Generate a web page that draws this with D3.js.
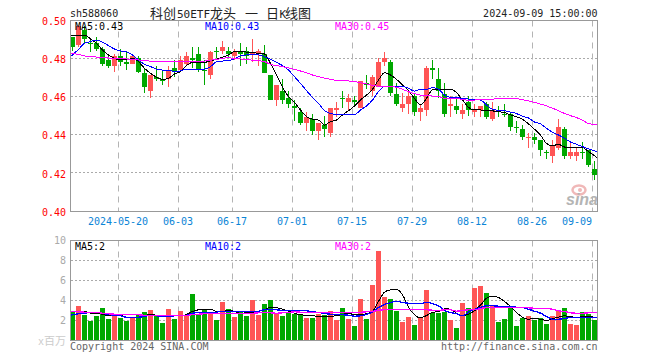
<!DOCTYPE html>
<html>
<head>
<meta charset="utf-8">
<script src="https://cdn.jsdelivr.net/npm/d3@7"></script>
<style>
html, body { margin: 0; padding: 0; background: #fff; }
svg { display: block; }
text { font-family: "DejaVu Sans Mono", monospace; font-size: 10px; }
</style>
</head>
<body>
<div id="chart"></div>
<script>
const dates = [
    "2024-05-08","2024-05-09","2024-05-10","2024-05-13","2024-05-14","2024-05-15","2024-05-16","2024-05-17",
    "2024-05-20","2024-05-21","2024-05-22","2024-05-23","2024-05-24","2024-05-27","2024-05-28","2024-05-29","2024-05-30","2024-05-31",
    "2024-06-03","2024-06-04","2024-06-05","2024-06-06","2024-06-07","2024-06-11","2024-06-12","2024-06-13","2024-06-14",
    "2024-06-17","2024-06-18","2024-06-19","2024-06-20","2024-06-21","2024-06-24","2024-06-25","2024-06-26","2024-06-27","2024-06-28",
    "2024-07-01","2024-07-02","2024-07-03","2024-07-04","2024-07-05","2024-07-08","2024-07-09","2024-07-10","2024-07-11","2024-07-12",
    "2024-07-15","2024-07-16","2024-07-17","2024-07-18","2024-07-19","2024-07-22","2024-07-23","2024-07-24","2024-07-25","2024-07-26",
    "2024-07-29","2024-07-30","2024-07-31","2024-08-01","2024-08-02","2024-08-05","2024-08-06","2024-08-07","2024-08-08","2024-08-09",
    "2024-08-12","2024-08-13","2024-08-14","2024-08-15","2024-08-16","2024-08-19","2024-08-20","2024-08-21","2024-08-22","2024-08-23",
    "2024-08-26","2024-08-27","2024-08-28","2024-08-29","2024-08-30","2024-09-02","2024-09-03","2024-09-04","2024-09-05","2024-09-06",
    "2024-09-09"
];

const tickDates = ["2024-05-20","2024-06-03","2024-06-17","2024-07-01","2024-07-15","2024-07-29","2024-08-12","2024-08-26","2024-09-09"];
const tickLabels = ["2024-05-20","06-03","06-17","07-01","07-15","07-29","08-12","08-26","09-09"];
const priceTicks = [0.40, 0.42, 0.44, 0.46, 0.48, 0.50];
const volTicks = [2, 4, 6, 8, 10];

const opens = [.491,.487,.495,.488,.488,.485,.479,.476,.481,.478,.477,.480,.472,.463,.470,.469,.469,.475,.474,.477,.480,.482,.474,.471,.484,.484,.484,.481,.483,.484,.482,.482,.482,.471,.458,.463,.459,.455,.452,.446,.448,.442,.445,.441,.453,.459,.457,.458,.454,.467,.463,.465,.478,.478,.461,.454,.456,.460,.452,.453,.475,.469,.461,.455,.455,.451,.457,.452,.453,.456,.448,.453,.451,.451,.444,.443,.438,.439,.437,.431,.429,.433,.443,.429,.429,.431,.432,.422];
const closes = [.486,.497,.490,.488,.485,.477,.476,.481,.478,.477,.481,.473,.465,.471,.469,.468,.474,.473,.479,.481,.479,.474,.474,.483,.483,.486,.482,.483,.482,.481,.483,.484,.472,.458,.466,.458,.456,.454,.446,.449,.442,.446,.443,.454,.454,.459,.459,.457,.468,.466,.470,.478,.480,.462,.456,.456,.460,.452,.454,.475,.474,.463,.451,.456,.453,.453,.453,.453,.455,.449,.453,.452,.451,.444,.444,.439,.439,.437,.432,.431,.434,.444,.429,.431,.431,.431,.424,.419];
const highs = [.491,.497,.497,.490,.491,.486,.482,.482,.485,.483,.482,.481,.475,.471,.476,.474,.476,.479,.481,.483,.486,.486,.479,.484,.486,.489,.486,.485,.488,.486,.490,.485,.487,.471,.466,.469,.463,.458,.454,.452,.451,.446,.450,.454,.457,.463,.461,.460,.468,.471,.471,.480,.483,.479,.467,.462,.463,.461,.456,.476,.479,.475,.467,.460,.459,.456,.460,.456,.455,.457,.457,.455,.456,.452,.447,.445,.441,.441,.437,.432,.437,.448,.444,.436,.433,.436,.432,.426];
const lows = [.484,.486,.488,.483,.484,.476,.475,.473,.476,.474,.477,.472,.462,.459,.468,.466,.465,.470,.473,.476,.475,.473,.466,.469,.480,.482,.480,.479,.476,.477,.478,.476,.472,.458,.455,.456,.454,.447,.445,.442,.440,.437,.439,.439,.449,.454,.453,.455,.454,.464,.460,.465,.476,.460,.455,.452,.451,.450,.447,.450,.469,.459,.449,.449,.451,.448,.450,.449,.449,.448,.447,.449,.449,.442,.441,.437,.433,.435,.429,.427,.425,.432,.427,.427,.426,.427,.423,.416];

const ma5 = [.4921,.4921,.4921,.4901,.4878,.4843,.4817,.4799,.4791,.4791,.4799,.4782,.4747,.4721,.4700,.4689,.4695,.4717,.4730,.4761,.4778,.4778,.4778,.4787,.4794,.4805,.4817,.4834,.4834,.4832,.4829,.4826,.4822,.4773,.4712,.4648,.4599,.4569,.4529,.4494,.4480,.4476,.4450,.4468,.4476,.4503,.4525,.4550,.4581,.4607,.4637,.4686,.4724,.4712,.4689,.4660,.4630,.4590,.4555,.4590,.4634,.4637,.4634,.4637,.4620,.4581,.4543,.4529,.4529,.4525,.4524,.4520,.4515,.4503,.4494,.4480,.4456,.4428,.4398,.4354,.4342,.4349,.4335,.4332,.4332,.4332,.4311,.4276];
const ma10 = [.4808,.4846,.4878,.4887,.4895,.4883,.4866,.4848,.4838,.4834,.4817,.4791,.4768,.4756,.4743,.4738,.4737,.4730,.4733,.4743,.4743,.4743,.4743,.4756,.4782,.4785,.4787,.4798,.4812,.4817,.4817,.4817,.4808,.4794,.4778,.4761,.4738,.4703,.4668,.4630,.4595,.4564,.4525,.4511,.4504,.4504,.4504,.4504,.4529,.4550,.4581,.4625,.4651,.4651,.4651,.4653,.4642,.4628,.4637,.4637,.4646,.4637,.4607,.4595,.4593,.4590,.4586,.4583,.4581,.4555,.4532,.4527,.4525,.4518,.4510,.4496,.4487,.4466,.4456,.4433,.4412,.4398,.4381,.4361,.4349,.4337,.4325,.4309];
const ma30 = [.4824,.4820,.4812,.4808,.4806,.4803,.4801,.4799,.4798,.4796,.4794,.4791,.4787,.4785,.4785,.4784,.4784,.4784,.4784,.4784,.4784,.4784,.4785,.4789,.4794,.4799,.4803,.4798,.4796,.4794,.4789,.4787,.4782,.4768,.4761,.4756,.4749,.4742,.4733,.4724,.4712,.4703,.4696,.4689,.4684,.4682,.4681,.4677,.4672,.4665,.4658,.4654,.4654,.4651,.4648,.4637,.4625,.4614,.4607,.4604,.4602,.4599,.4590,.4588,.4588,.4585,.4579,.4581,.4583,.4585,.4585,.4590,.4590,.4590,.4588,.4583,.4576,.4569,.4560,.4550,.4538,.4525,.4511,.4499,.4489,.4476,.4457,.4452];

const volumes = [2.9,3.45,2.55,2.0,2.45,3.25,2.15,2.45,2.25,2.0,2.25,2.55,2.85,3.05,2.55,1.75,3.15,2.15,2.95,2.55,4.65,2.55,3.05,2.7,2.05,3.9,3.15,2.35,2.85,2.45,4.05,2.55,3.65,4.05,2.65,2.45,2.85,2.65,2.55,2.25,2.25,2.65,2.55,2.95,2.05,3.25,2.15,1.45,4.15,2.15,5.55,8.95,4.35,4.15,2.95,1.85,2.35,1.55,2.35,5.05,2.75,2.75,2.85,2.05,1.25,3.75,3.25,5.25,5.45,4.75,3.45,1.85,2.15,3.35,1.45,2.25,2.45,2.05,2.25,1.65,2.45,2.95,3.25,1.65,1.55,2.85,2.65,2.05];
const volMa5 = [2.93,2.93,2.9,2.73,2.7,2.63,2.47,2.47,2.53,2.33,2.27,2.33,2.47,2.63,2.5,2.4,2.5,2.5,2.47,2.6,2.9,3.07,3.1,3.13,2.9,2.9,3.03,2.9,2.73,2.77,2.8,2.93,3.07,3.33,3.27,3.13,2.93,2.73,2.57,2.53,2.47,2.43,2.4,2.43,2.47,2.63,2.7,2.6,2.6,2.67,2.9,3.9,4.83,5.07,5.13,4.57,3.33,2.57,2.27,2.5,2.8,2.9,3.17,3.13,2.73,2.47,2.63,2.97,3.53,4.23,4.43,4.3,3.9,3.4,2.8,2.33,2.13,2.2,2.13,2,2.2,2.33,2.47,2.37,2.33,2.37,2.4,2.23];
const volMa10 = [2.53,2.67,2.73,2.8,2.8,2.73,2.6,2.53,2.47,2.33,2.33,2.33,2.4,2.53,2.47,2.4,2.43,2.47,2.5,2.53,2.73,2.8,2.8,2.8,2.83,2.93,2.93,2.9,2.9,2.9,2.9,2.93,3.07,3.07,3.07,3,3,3.03,3.03,2.97,2.87,2.8,2.7,2.63,2.6,2.57,2.53,2.43,2.47,2.6,2.87,3.3,3.6,3.77,3.93,3.8,3.73,3.7,3.67,3.83,3.67,3.47,3,2.8,2.67,2.47,2.83,3.13,3.3,3.47,3.47,3.43,3.4,3.4,3.33,3.3,3.13,2.93,2.73,2.4,2.13,2.13,2.2,2.3,2.33,2.33,2.33,2.33];
const volMa30 = [2.9,2.87,2.83,2.8,2.8,2.73,2.67,2.63,2.6,2.6,2.6,2.57,2.53,2.53,2.53,2.53,2.53,2.53,2.5,2.5,2.6,2.63,2.67,2.67,2.67,2.73,2.73,2.73,2.73,2.73,2.73,2.77,2.8,2.77,2.73,2.77,2.8,2.87,2.83,2.8,2.8,2.8,2.8,2.8,2.83,2.83,2.83,2.83,2.83,2.87,2.9,3.03,3.07,3.07,3.07,3.07,3.07,3.07,3.07,3.07,3.03,3,3.07,3.07,2.93,3,3.07,3.1,3.17,3.3,3.33,3.33,3.33,3.33,3.33,3.3,3.27,3.23,3.23,3.2,3.13,2.97,2.9,2.77,2.73,2.73,2.77,2.8];

const UP = "#ff5555", DOWN = "#00a800", GRID = "#aaaaaa", FRAME = "#999999";
const MA_COLORS = ["#000000", "#0000ff", "#ff00ff"];

const svg = d3.select("#chart").append("svg").attr("width", 660).attr("height", 360);

// band step is 6px, bars are 5px wide
const x = d3.scaleBand().domain(dates).range([69.5, 597.5]).paddingInner(1 / 6).paddingOuter(1 / 12);
const yPrice = d3.scaleLinear().domain([0.40, 0.50]).range([211, 20]);
const yVol = d3.scaleLinear().domain([0, 10]).range([340.5, 240.5]);
const isUp = i => closes[i] > opens[i];
const cx = d => x(d) + x.bandwidth() / 2;

function panelGrid(y, ticks, top, bottom) {
    const g = svg.append("g");
    g.selectAll(".h-grid").data(ticks).join("line")
        .attr("x1", 71).attr("x2", 599)
        .attr("y1", d => Math.floor(y(d)) + 0.5).attr("y2", d => Math.floor(y(d)) + 0.5)
        .attr("stroke", GRID).attr("stroke-dasharray", "2 2");
    g.selectAll(".v-grid").data(tickDates).join("line")
        .attr("x1", d => x(d) + 0.5).attr("x2", d => x(d) + 0.5)
        .attr("y1", top).attr("y2", bottom)
        .attr("stroke", "#b4b4b4").attr("stroke-dasharray", "6 5");
}

function maLine(values, y, color, width) {
    const last = values.length - 1;
    const line = d3.line()
        .x((d, i) => i === 0 ? x.range()[0] + 1 : i === last ? x.range()[1] + 0.5 : cx(dates[i]))
        .y(d => y(d))
        .curve(d3.curveMonotoneX);
    svg.append("path")
        .attr("d", line(values))
        .attr("fill", "none")
        .attr("stroke", color)
        .attr("stroke-width", width)
        .attr("shape-rendering", "crispEdges");
}

function frame(top, bottom) {
    svg.append("rect")
        .attr("x", 70.5).attr("y", top)
        .attr("width", 527).attr("height", bottom - top)
        .attr("fill", "none").attr("stroke", FRAME);
}

function maLabels(y, texts) {
    [75, 205, 335].forEach((lx, i) => {
        svg.append("text").attr("x", lx).attr("y", y).attr("fill", MA_COLORS[i]).text(texts[i]);
    });
}

panelGrid(yPrice, [0.42, 0.44, 0.46, 0.48], 20.5, 212);
panelGrid(yVol, [2, 4, 6, 8], 240.5, 341);

// Watermark sits under the candles
const wm = svg.append("g");
wm.append("ellipse").attr("cx", 579).attr("cy", 190).attr("rx", 6.5).attr("ry", 4.5)
    .attr("fill", "none").attr("stroke", "#f0b8b8").attr("stroke-width", 2.5);
wm.append("circle").attr("cx", 580).attr("cy", 190).attr("r", 2).attr("fill", "#f0b8b8");
wm.append("text").attr("x", 566).attr("y", 205).attr("fill", "#b4b4b4")
    .style("font-family", "'Liberation Sans', sans-serif").style("font-size", "16px")
    .style("font-weight", "bold").style("font-style", "italic").text("sina");

// Candles
const candles = svg.append("g").selectAll("g").data(dates).join("g");
candles.append("line")
    .attr("x1", cx).attr("x2", cx)
    .attr("y1", (d, i) => Math.round(yPrice(highs[i])))
    .attr("y2", (d, i) => Math.round(yPrice(lows[i])))
    .attr("stroke", (d, i) => isUp(i) ? UP : DOWN);
candles.append("rect")
    .attr("x", d => x(d))
    .attr("width", x.bandwidth())
    .attr("y", (d, i) => Math.round(yPrice(Math.max(opens[i], closes[i]))))
    .attr("height", (d, i) => Math.max(1, Math.round(yPrice(Math.min(opens[i], closes[i]))) - Math.round(yPrice(Math.max(opens[i], closes[i])))))
    .attr("fill", (d, i) => isUp(i) ? UP : DOWN);

// Volume bars
svg.append("g").selectAll("rect").data(dates).join("rect")
    .attr("x", d => x(d))
    .attr("width", x.bandwidth())
    .attr("y", (d, i) => Math.round(yVol(volumes[i])))
    .attr("height", (d, i) => 341 - Math.round(yVol(volumes[i])))
    .attr("fill", (d, i) => isUp(i) ? UP : DOWN);

// magenta ends up on top, same as the reference
[ma5, ma10, ma30].forEach((v, i) => maLine(v, yPrice, MA_COLORS[i], 1));
[volMa5, volMa10, volMa30].forEach((v, i) => maLine(v, yVol, MA_COLORS[i], i === 0 ? 1 : 1.3));

frame(20.5, 211.5);
frame(240.5, 340.5);

// Axes
const priceAxis = svg.append("g").attr("transform", "translate(70,1)")
    .call(d3.axisLeft(yPrice).tickValues(priceTicks).tickSize(0).tickPadding(4).tickFormat(d3.format(".2f")));
priceAxis.select(".domain").remove();
priceAxis.selectAll("text").attr("fill", "#ff0000").style("font-size", "10px");

const volAxis = svg.append("g").attr("transform", "translate(70,0)")
    .call(d3.axisLeft(yVol).tickValues(volTicks).tickSize(0).tickPadding(4));
volAxis.select(".domain").remove();
volAxis.selectAll("text").attr("fill", "#aaaaaa").style("font-size", "10px");

svg.selectAll(".date-label").data(tickDates).join("text")
    .attr("class", "date-label")
    .attr("x", d => x(d))
    .attr("y", 225)
    .attr("text-anchor", d => x(d) + 15 > 597 ? "end" : "middle")
    .attr("fill", "#0b84d6")
    .text((d, i) => tickLabels[i]);

// Header and footer texts
svg.append("text").attr("x", 70).attr("y", 17).attr("fill", "#222").text("sh588060");
svg.append("text").attr("x", 597.5).attr("y", 17).attr("text-anchor", "end").attr("fill", "#222").text("2024-09-09 15:00:00");

const title = svg.append("text").attr("y", 17.5).attr("fill", "#222");
[["科创", 150, 13, "cjk"], ["50ETF", 177, 11, "mono"], ["龙头", 210, 13, "cjk"], ["一", 245, 13, "cjk"],
 ["日", 266, 13, "cjk"], ["K", 279.5, 11, "mono"], ["线图", 285, 13, "cjk"]].forEach(([t, tx, fs, kind]) => {
    title.append("tspan").attr("x", tx)
        .style("font-size", fs + "px")
        .style("font-family", kind === "cjk" ? "'Noto Sans CJK SC'" : "'DejaVu Sans Mono'")
        .text(t);
});

maLabels(30, ["MA5:0.43", "MA10:0.43", "MA30:0.45"]);
maLabels(250, ["MA5:2", "MA10:2", "MA30:2"]);

const unit = svg.append("text").attr("x", 38).attr("y", 345).attr("fill", "#cccccc");
unit.append("tspan").text("x");
unit.append("tspan").style("font-family", "'Noto Sans CJK SC'").style("font-size", "11px").text("百万");

svg.append("text").attr("x", 70).attr("y", 350).attr("fill", "#666").text("Copyright 2024 SINA.COM");
svg.append("text").attr("x", 597.5).attr("y", 350).attr("text-anchor", "end").attr("fill", "#666").text("http://finance.sina.com.cn");
</script>
</body>
</html>
